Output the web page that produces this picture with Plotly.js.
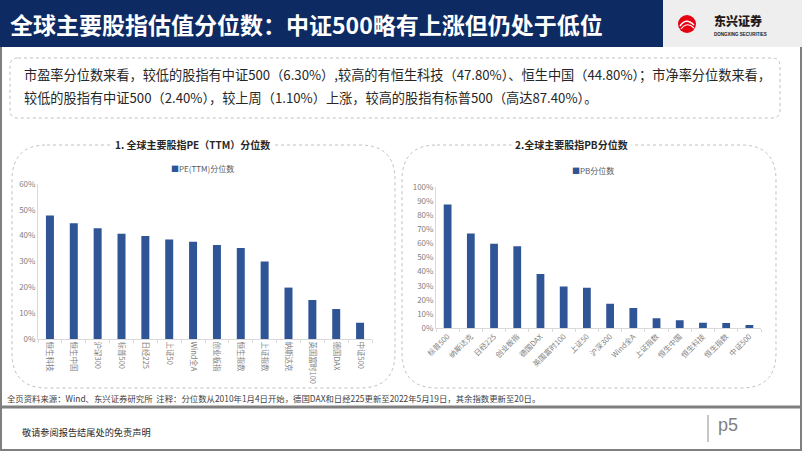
<!DOCTYPE html>
<html><head><meta charset="utf-8">
<script src="https://cdn.plot.ly/plotly-3.0.1.min.js"></script>
<style>html,body{margin:0;padding:0;background:#fff}#chart{width:802px;height:451px}</style>
</head><body><div id="chart"></div>
<script>
// ---- data ----
const peCategories = ['恒生科技','恒生中国','沪深300','标普500','日经225','上证50','Wind全A','创业板指','恒生指数','上证指数','纳斯达克','英国富时100','德国DAX','中证500'];
const peValues = [47.8,44.8,42.9,40.7,39.9,38.5,37.6,36.4,35.2,30.0,19.9,15.1,11.6,6.3];
const pbCategories = ['标普500','纳斯达克','日经225','创业板指','德国DAX','英国富时100','上证50','沪深300','Wind全A','上证指数','恒生中国','恒生科技','恒生指数','中证500'];
const pbValues = [87.4,67.0,59.7,57.9,38.3,29.6,28.7,17.4,14.3,7.1,5.6,4.0,3.7,2.4];
const peSeriesName = 'PE(TTM)分位数';
const pbSeriesName = 'PB分位数';
const pageTitle = '全球主要股指估值分位数：中证500略有上涨但仍处于低位';
const summaryLine1 = '市盈率分位数来看，较低的股指有中证500（6.30%）,较高的有恒生科技（47.80%）、恒生中国（44.80%）；市净率分位数来看，';
const summaryLine2 = '较低的股指有中证500（2.40%），较上周（1.10%）上涨，较高的股指有标普500（高达87.40%）。';
const peTitle = '1. 全球主要股指PE（TTM）分位数';
const pbTitle = '2.全球主要股指PB分位数';
const sourceNote = '全页资料来源：Wind、东兴证券研究所  注释：分位数从2010年1月4日开始，德国DAX和日经225更新至2022年5月19日，其余指数更新至20日。';
const disclaimer = '敬请参阅报告结尾处的免责声明';
const pageNo = 'p5';
const logoName = '东兴证券';
const logoSub = 'DONGXING SECURITIES';

// ---- helpers ----
const W = 802, H = 451;
const X = x => x / W, Y = y => 1 - y / H;
const FONT = '"Noto Sans CJK SC", "Noto Sans", sans-serif';
const BAR = '#2F5597';

function rect(x0, y0, x1, y1, fill, layer) {
  return {type:'rect', xref:'paper', yref:'paper', x0:X(x0), x1:X(x1), y0:Y(y1), y1:Y(y0),
          fillcolor:fill, line:{width:0}, layer:layer || 'below'};
}
function line(x0, y0, x1, y1, color, width) {
  return {type:'line', xref:'paper', yref:'paper', x0:X(x0), x1:X(x1), y0:Y(y0), y1:Y(y1),
          line:{color:color, width:width}, layer:'above'};
}
function rr(x0, y0, x1, y1, r) {
  const p = (a, b) => X(a).toFixed(5) + ',' + Y(b).toFixed(5);
  return 'M' + p(x0 + r, y0) + ' L' + p(x1 - r, y0) + ' Q' + p(x1, y0) + ' ' + p(x1, y0 + r) +
         ' L' + p(x1, y1 - r) + ' Q' + p(x1, y1) + ' ' + p(x1 - r, y1) +
         ' L' + p(x0 + r, y1) + ' Q' + p(x0, y1) + ' ' + p(x0, y1 - r) +
         ' L' + p(x0, y0 + r) + ' Q' + p(x0, y0) + ' ' + p(x0 + r, y0) + ' Z';
}
function rbox(x0, y0, x1, y1, r) {
  return {type:'path', xref:'paper', yref:'paper', path:rr(x0, y0, x1, y1, r),
          line:{color:'#bfbfbf', width:1, dash:'dot'}, fillcolor:'rgba(0,0,0,0)', layer:'below'};
}
function ann(text, x, y, size, color, opts) {
  return Object.assign({text:text, xref:'paper', yref:'paper', x:X(x), y:Y(y), showarrow:false,
    xanchor:'left', yanchor:'middle', font:{family:FONT, size:size, color:color}}, opts || {});
}

const traces = [
  {type:'bar', x:peCategories, y:peValues, name:peSeriesName, marker:{color:BAR},
   xaxis:'x', yaxis:'y', showlegend:false, hoverinfo:'x+y'},
  {type:'bar', x:pbCategories, y:pbValues, name:pbSeriesName, marker:{color:BAR},
   xaxis:'x2', yaxis:'y2', showlegend:false, hoverinfo:'x+y'}
];

const tickFont = {family:FONT, size:8, color:'#7f7f7f'};
const xTickFont = {family:FONT, size:7.5, color:'#7f7f7f'};

const layout = {
  width:W, height:H, margin:{l:0, r:0, t:0, b:0},
  paper_bgcolor:'#ffffff', plot_bgcolor:'rgba(0,0,0,0)',
  bargap:0.665, showlegend:false,
  xaxis:{domain:[X(38), X(372)], type:'category', tickangle:90, tickfont:xTickFont,
         showline:true, linecolor:'#d9d9d9', linewidth:1, ticks:'outside', tickson:'boundaries',
         ticklen:3, tickcolor:'#d9d9d9', showgrid:false, zeroline:false, fixedrange:true},
  yaxis:{domain:[Y(339), Y(184)], range:[0, 60], dtick:10, ticksuffix:'%', tickfont:tickFont,
         showline:true, linecolor:'#d9d9d9', linewidth:1, showgrid:false, zeroline:false,
         ticks:'', fixedrange:true},
  xaxis2:{domain:[X(436), X(761)], anchor:'y2', type:'category', tickangle:-45, tickfont:xTickFont,
          showline:true, linecolor:'#d9d9d9', linewidth:1, ticks:'outside', tickson:'boundaries',
          ticklen:3, tickcolor:'#d9d9d9', showgrid:false, zeroline:false, fixedrange:true},
  yaxis2:{domain:[Y(328.3), Y(186.7)], anchor:'x2', range:[0, 100], dtick:10, ticksuffix:'%', tickfont:tickFont,
          showline:true, linecolor:'#d9d9d9', linewidth:1, showgrid:false, zeroline:false,
          ticks:'', fixedrange:true},
  shapes:[
    rect(0, 0, 663, 47, '#0D2A63', 'above'),
    rect(663, 0, 802, 47, '#eeeeee', 'above'),
    {type:'circle', xref:'paper', yref:'paper', x0:X(678), x1:X(696), y0:Y(33), y1:Y(15),
     fillcolor:'#E60012', line:{width:0}, layer:'above'},
    {type:'path', xref:'paper', yref:'paper', layer:'above', line:{color:'#ffffff', width:1.6},
     path:'M'+X(680)+','+Y(26)+' Q'+X(686)+','+Y(17)+' '+X(694)+','+Y(25)},
    {type:'path', xref:'paper', yref:'paper', layer:'above', line:{color:'#ffffff', width:1.2},
     path:'M'+X(681)+','+Y(29)+' Q'+X(687)+','+Y(21)+' '+X(694)+','+Y(28)},
    rbox(10, 58, 780, 118, 8),
    rbox(12, 145, 395, 388, 35),
    rbox(402, 145, 776, 388, 35),
    line(1, 47, 1, 451, '#7f7f7f', 2),
    line(801, 47, 801, 451, '#7f7f7f', 2),
    line(0, 407, 802, 407, '#7f7f7f', 3),
    line(0, 450, 802, 450, '#7f7f7f', 2),
    line(708, 415, 708, 442, '#8c8c8c', 1)
  ],
  annotations:[
    ann(pageTitle, 8, 24, 23, '#ffffff', {font:{family:FONT, size:23, color:'#ffffff', weight:700}}),
    ann(logoName, 712, 21, 12, '#231815', {font:{family:FONT, size:12, color:'#231815', weight:900}}),
    ann(logoSub, 712, 34, 4.5, '#231815', {font:{family:'Liberation Sans, Arial, sans-serif', size:4.5, color:'#231815', weight:700}}),
    ann(summaryLine1, 22, 75, 13.2, '#262626'),
    ann(summaryLine2, 22, 97, 13.2, '#262626'),
    ann(peTitle, 192, 144, 10, '#262626', {xanchor:'center', bgcolor:'#ffffff', borderpad:3,
        font:{family:FONT, size:10, color:'#262626', weight:700}}),
    ann(pbTitle, 571, 144, 10, '#262626', {xanchor:'center', bgcolor:'#ffffff', borderpad:3,
        font:{family:FONT, size:10, color:'#262626', weight:700}}),
    ann('<span style="color:'+BAR+'">■</span>' + peSeriesName, 169, 168, 8, '#595959'),
    ann('<span style="color:'+BAR+'">■</span>' + pbSeriesName, 570, 170, 8, '#595959'),
    ann(sourceNote, 5, 398, 8.4, '#404040'),
    ann(disclaimer, 20, 432, 9.2, '#262626'),
    ann(pageNo, 716, 425, 18, '#7f7f7f', {font:{family:'Liberation Sans, Arial, sans-serif', size:18, color:'#7f7f7f'}})
  ]
};

Plotly.newPlot('chart', traces, layout, {staticPlot:true, displayModeBar:false});
</script></body></html>
